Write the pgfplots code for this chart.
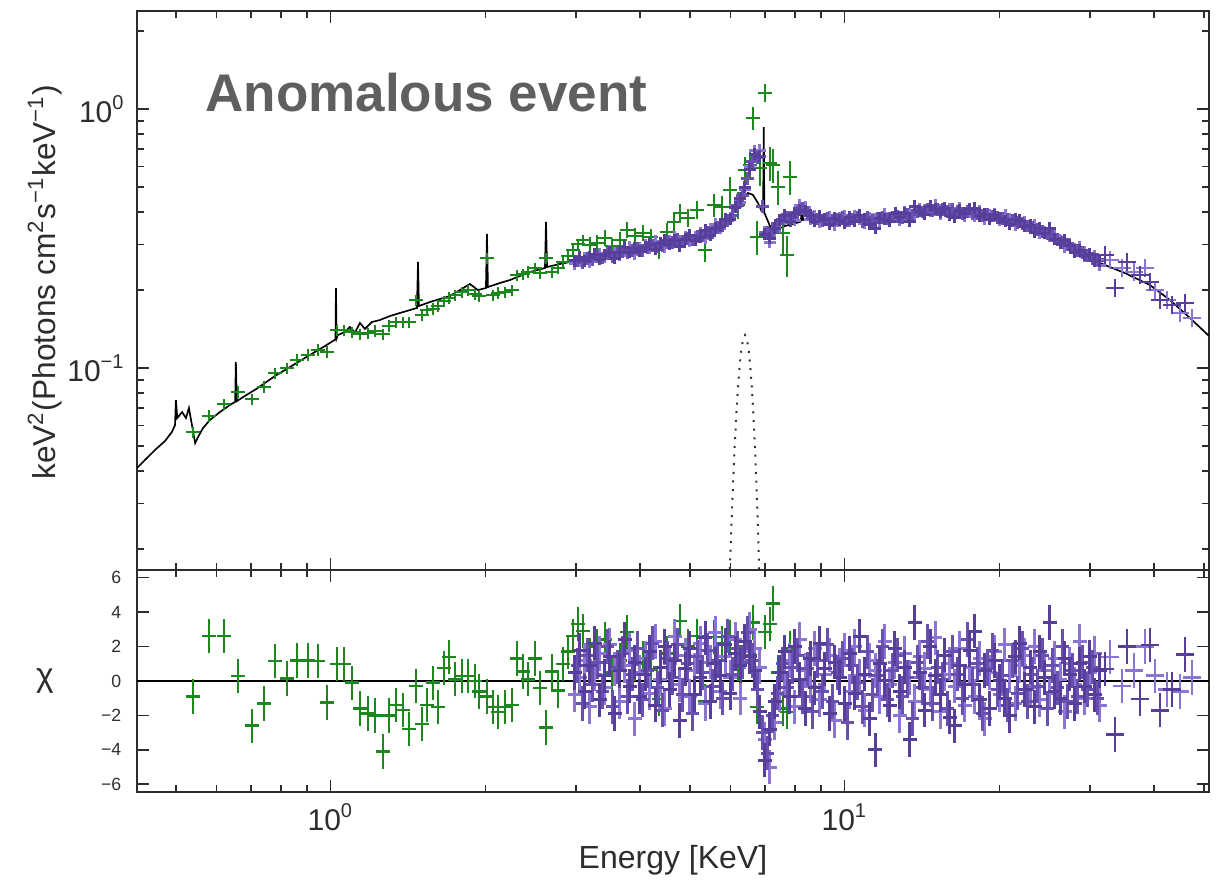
\documentclass[border=0pt]{standalone}
\usepackage{pgfplots}
\pgfplotsset{compat=1.18}
\usepackage{pgfplotstable}
\usepackage{fontspec}
\setmainfont{Liberation Sans}
\definecolor{gcol}{RGB}{28,135,28}
\definecolor{pdark}{RGB}{88,62,155}
\definecolor{pmid}{RGB}{105,80,176}
\definecolor{plight}{RGB}{140,116,212}
\definecolor{titlegray}{RGB}{95,95,95}
\definecolor{axgray}{RGB}{45,45,45}

% cross-shaped marks of fixed size (error bars of fixed relative / absolute size)
\pgfdeclareplotmark{ptop}{%
  \pgfpathmoveto{\pgfqpoint{-1.9pt}{0pt}}\pgfpathlineto{\pgfqpoint{1.9pt}{0pt}}%
  \pgfpathmoveto{\pgfqpoint{0pt}{-1.9pt}}\pgfpathlineto{\pgfqpoint{0pt}{1.9pt}}%
  \pgfusepathqstroke}
\pgfdeclareplotmark{ptophi}{%
  \pgfpathmoveto{\pgfqpoint{-2.8pt}{0pt}}\pgfpathlineto{\pgfqpoint{2.8pt}{0pt}}%
  \pgfpathmoveto{\pgfqpoint{0pt}{-2.8pt}}\pgfpathlineto{\pgfqpoint{0pt}{2.8pt}}%
  \pgfusepathqstroke}
\pgfdeclareplotmark{pbot}{%
  \pgfpathmoveto{\pgfqpoint{-2.0pt}{0pt}}\pgfpathlineto{\pgfqpoint{2.0pt}{0pt}}%
  \pgfpathmoveto{\pgfqpoint{0pt}{-5.163pt}}\pgfpathlineto{\pgfqpoint{0pt}{5.163pt}}%
  \pgfusepathqstroke}
\pgfdeclareplotmark{pbothi}{%
  \pgfpathmoveto{\pgfqpoint{-2.8pt}{0pt}}\pgfpathlineto{\pgfqpoint{2.8pt}{0pt}}%
  \pgfpathmoveto{\pgfqpoint{0pt}{-5.163pt}}\pgfpathlineto{\pgfqpoint{0pt}{5.163pt}}%
  \pgfusepathqstroke}
\pgfdeclareplotmark{gbot}{%
  \pgfpathmoveto{\pgfqpoint{-2.11pt}{0pt}}\pgfpathlineto{\pgfqpoint{2.11pt}{0pt}}%
  \pgfpathmoveto{\pgfqpoint{0pt}{-5.163pt}}\pgfpathlineto{\pgfqpoint{0pt}{5.163pt}}%
  \pgfusepathqstroke}

\pgfplotstableread{
E F
0.420 0.0411
0.435 0.0441
0.455 0.0482
0.476 0.0522
0.491 0.0566
0.498 0.0602
0.500 0.0752
0.503 0.0641
0.514 0.0676
0.523 0.0641
0.530 0.0701
0.535 0.0630
0.545 0.0513
0.552 0.0541
0.5645 0.0586
0.5823 0.0630
0.609 0.0676
0.637 0.0720
0.652 0.0740
0.654 0.1055
0.657 0.0745
0.681 0.0780
0.712 0.0823
0.745 0.0875
0.779 0.0931
0.815 0.0982
0.852 0.1036
0.891 0.1093
0.932 0.1153
0.975 0.1216
1.010 0.1271
1.022 0.1290
1.024 0.2036
1.027 0.1300
1.033 0.1341
1.066 0.1377
1.090 0.1440
1.115 0.1370
1.140 0.1492
1.166 0.1415
1.203 0.1505
1.247 0.1532
1.305 0.1588
1.364 0.1631
1.427 0.1674
1.472 0.1705
1.479 0.2566
1.485 0.1735
1.560 0.1798
1.632 0.1847
1.707 0.1897
1.785 0.2000
1.866 0.2110
1.934 0.2000
2.005 0.2036
2.014 0.3292
2.023 0.2054
2.135 0.2129
2.233 0.2186
2.335 0.2266
2.443 0.2348
2.612 0.2432
2.624 0.3663
2.636 0.2455
2.794 0.2521
2.988 0.2589
3.341 0.2707
3.738 0.2830
4.181 0.2958
4.676 0.3093
5.231 0.3260
5.596 0.3440
5.852 0.3663
6.121 0.4070
6.369 0.4532
6.485 0.4739
6.631 0.4660
6.782 0.4337
6.905 0.4002
6.94 0.4000
6.96 0.8520
6.98 0.3950
6.997 0.3932
7.156 0.3533
7.319 0.3410
7.654 0.3533
8.186 0.3663
8.22 0.3700
8.26 0.4337
8.30 0.3730
8.954 0.3795
10.24 0.3862
11.71 0.3932
13.40 0.4002
15.33 0.4038
17.53 0.4002
20.05 0.3900
22.94 0.3600
25.08 0.3292
28.06 0.2855
31.38 0.2543
35.10 0.2326
39.26 0.2091
42.94 0.1830
46.97 0.1560
51.15 0.1329
}\modeldata

\pgfplotstableread{
E F
5.95 0.0123
6.00 0.0203
6.05 0.0316
6.10 0.0464
6.15 0.0641
6.20 0.0836
6.25 0.1028
6.30 0.1191
6.35 0.1301
6.40 0.1340
6.45 0.1301
6.50 0.1191
6.55 0.1028
6.60 0.0836
6.65 0.0641
6.70 0.0464
6.75 0.0316
6.80 0.0203
6.85 0.0123
}\gaussdata

\pgfplotstableread{
E F ey chi
0.5396 0.0566 0.05 -0.9
0.5797 0.0653 0.05 2.6
0.6200 0.0726 0.05 2.6
0.6602 0.0808 0.05 0.3
0.7029 0.0759 0.05 -2.6
0.7419 0.0845 0.05 -1.3
0.7791 0.0956 0.05 1.15
0.8222 0.1000 0.05 0.15
0.8598 0.1074 0.05 1.2
0.9034 0.1123 0.05 1.2
0.9447 0.1174 0.05 1.15
0.9835 0.1153 0.05 -1.25
1.0287 0.1402 0.05 1.0
1.0614 0.1402 0.05 1.0
1.1002 0.1377 0.05 -0.1
1.1402 0.1353 0.05 -1.6
1.1817 0.1365 0.05 -1.9
1.2193 0.1390 0.05 -2.0
1.2639 0.1353 0.05 -4.1
1.2986 0.1453 0.05 -2.0
1.3397 0.1505 0.05 -1.4
1.3825 0.1505 0.05 -1.7
1.4201 0.1505 0.05 -2.8
1.4652 0.1830 0.05 -0.3
1.5052 0.1601 0.05 -2.5
1.5393 0.1674 0.05 -1.4
1.5813 0.1690 0.05 -0.1
1.6173 0.1735 0.05 -1.5
1.6612 0.1814 0.05 0.75
1.6988 0.1864 0.05 1.4
1.7451 0.1913 0.05 0.1
1.8004 0.1965 0.05 0.3
1.8494 0.2000 0.05 0.3
1.9083 0.1931 0.05 0.0
1.9428 0.1897 0.05 -0.6
2.0137 0.2658 0.05 -0.9
2.0693 0.1913 0.05 -1.5
2.1160 0.1949 0.05 -1.8
2.1834 0.1965 0.05 -1.5
2.2527 0.2000 0.05 -1.4
2.3042 0.2285 0.05 1.3
2.3666 0.2306 0.05 0.55
2.4207 0.2348 0.05 0.1
2.4980 0.2432 0.05 1.3
2.5546 0.2326 0.05 -0.4
2.6241 0.2658 0.05 -2.7
2.6958 0.2348 0.05 0.55
2.7690 0.2432 0.05 -0.55
2.8314 0.2566 0.05 1.0
2.8954 0.2707 0.05 1.7
2.9610 0.2855 0.05 2.6
3.0280 0.3011 0.05 3.3
3.0966 0.3120 0.05 2.9
3.1949 0.2985 0.07 1.5
3.2968 0.3039 0.07 2.0
3.4174 0.3176 0.07 2.4
3.5263 0.2958 0.07 0.5
3.6553 0.3120 0.07 1.2
3.7717 0.3410 0.07 2.86
3.9089 0.3233 0.07 1.0
4.0520 0.3320 0.07 1.3
4.2003 0.3204 0.07 0.67
4.3527 0.2855 0.08 -1.05
4.5117 0.3350 0.08 1.6
4.6552 0.3663 0.08 2.57
4.7823 0.3967 0.08 3.5
4.9566 0.3795 0.08 2.0
5.1615 0.4070 0.08 2.6
5.3496 0.2855 0.10 -1.2
5.5700 0.4260 0.10 2.57
5.7740 0.4183 0.10 2.2
5.9841 0.4870 0.12 2.57
6.2035 0.4260 0.12 1.0
6.3973 0.5810 0.12 2.0
6.5432 0.6078 0.12 1.5
6.6314 0.9230 0.10 3.4
6.7530 0.3204 0.15 -1.5
6.8427 0.5920 0.15 0.8
6.9972 1.1530 0.08 2.86
7.1563 0.6187 0.15 3.3
7.2534 0.6078 0.15 4.5
7.4177 0.4999 0.15 0.5
7.5860 0.3320 0.18 -1.6
7.7200 0.2731 0.18 -1.8
7.8285 0.5463 0.15 1.9
}\greendata

\pgfplotstableread{
E F chi
2.988 0.2589 0.5
3.055 0.2682 1.8
3.124 0.2589 -0.6
3.195 0.2682 0.9
3.267 0.2754 2.2
3.341 0.2635 -1.1
3.417 0.2730 0.3
3.495 0.2804 1.4
3.574 0.2658 -1.9
3.655 0.2804 0.6
3.738 0.2931 2.4
3.822 0.2804 -0.3
3.909 0.2906 1.1
3.998 0.2829 -0.9
4.089 0.2931 0.4
4.181 0.3010 1.7
4.276 0.2880 -1.4
4.373 0.3037 0.8
4.471 0.3119 2.0
4.572 0.3010 -0.5
4.676 0.3119 1.2
4.782 0.2958 -2.3
4.891 0.3147 0.7
5.001 0.3261 1.9
5.115 0.3119 -0.8
5.231 0.3204 0.2
5.350 0.3410 2.5
5.471 0.3261 -1.2
5.596 0.3471 1.0
5.722 0.3533 0.3
5.852 0.3760 2.1
5.984 0.3760 -0.7
6.121 0.4183 1.6
6.259 0.4532 0.9
6.397 0.4997 2.3
6.543 0.5865 1.4
6.691 0.6702 0.6
6.843 0.6584 -1.8
6.997 0.3291 -4.6
7.156 0.3175 -2.8
7.319 0.3471 -1.2
7.485 0.3727 0.5
7.654 0.3896 1.7
7.829 0.3694 -0.9
8.005 0.3966 2.0
8.186 0.4073 0.1
8.373 0.4037 -1.6
8.563 0.3896 1.3
8.756 0.3694 -0.4
8.954 0.3862 2.2
9.156 0.3760 0.7
9.363 0.3597 -1.9
9.576 0.3793 1.1
9.793 0.3727 0.2
10.01 0.3629 -1.3
10.24 0.3827 1.6
10.47 0.3694 -0.7
10.71 0.3896 2.6
10.95 0.3760 0.4
11.20 0.3597 -2.2
11.46 0.3471 -4.0
11.71 0.3793 1.0
11.98 0.3760 0.0
12.25 0.3694 -1.4
12.53 0.3966 1.9
12.81 0.3827 -0.6
13.10 0.3966 0.8
13.40 0.3694 -3.4
13.70 0.4220 3.4
14.01 0.4037 0.5
14.33 0.3931 -1.7
14.66 0.4220 2.0
14.99 0.4109 0.3
15.33 0.4001 -0.8
15.67 0.4146 1.5
16.03 0.3896 -2.1
16.39 0.3827 -2.6
16.76 0.4073 0.9
17.14 0.3966 -0.2
17.53 0.4109 1.8
17.93 0.4146 2.9
18.33 0.3862 -1.1
18.75 0.3931 0.6
19.18 0.3760 -1.6
19.61 0.3896 1.2
20.05 0.3793 0.0
20.51 0.3694 -1.0
20.97 0.3597 -2.0
21.45 0.3760 1.4
21.93 0.3727 2.2
22.43 0.3533 -0.5
22.94 0.3565 0.8
23.45 0.3350 -1.5
23.99 0.3471 1.7
24.53 0.3320 0.2
25.08 0.3471 3.4
25.65 0.3147 -0.6
26.24 0.3037 -1.0
26.83 0.3119 1.3
27.44 0.2984 0.4
28.06 0.2804 -1.3
28.69 0.2854 1.0
29.34 0.2730 -0.3
30.01 0.2754 1.4
30.69 0.2589 -0.8
31.38 0.2589 0.6
}\purpleA

\pgfplotstableread{
E F chi
2.988 0.2521 -0.8
3.055 0.2589 0.2
3.124 0.2658 1.2
3.195 0.2566 -1.5
3.267 0.2682 0.4
3.341 0.2754 1.6
3.417 0.2682 -0.4
3.495 0.2829 2.1
3.574 0.2779 0.7
3.655 0.2730 -1.2
3.738 0.2854 0.9
3.822 0.2931 1.8
3.909 0.2754 -2.2
3.998 0.2906 0.5
4.089 0.2984 1.3
4.181 0.2906 -0.7
4.276 0.3091 2.3
4.373 0.2984 0.1
4.471 0.2931 -1.6
4.572 0.3091 1.0
4.676 0.3204 2.6
4.782 0.3091 -0.2
4.891 0.3204 1.5
5.001 0.3091 -0.9
5.115 0.3204 0.6
5.231 0.3320 2.2
5.350 0.3175 -1.3
5.471 0.3380 1.1
5.596 0.3597 2.8
5.722 0.3471 -0.6
5.852 0.3727 1.4
5.984 0.3793 0.2
6.121 0.4258 2.4
6.259 0.4374 -1.0
6.397 0.4909 1.7
6.543 0.6023 3.0
6.691 0.6884 1.9
6.843 0.6945 0.8
6.997 0.3350 -3.4
7.156 0.3064 -5.0
7.319 0.3380 -2.4
7.485 0.3629 -0.8
7.654 0.3827 0.3
7.829 0.3827 1.2
8.005 0.3727 -1.5
8.186 0.4258 2.4
8.373 0.4183 0.6
8.563 0.3760 -0.3
8.756 0.3862 1.9
8.954 0.3661 -1.1
9.156 0.3760 0.4
9.363 0.3827 1.5
9.576 0.3565 -2.3
9.793 0.3793 0.9
10.01 0.3862 1.8
10.24 0.3694 -0.6
10.47 0.3862 2.0
10.71 0.3760 0.3
10.95 0.3629 -1.7
11.20 0.3793 1.2
11.46 0.3760 0.6
11.71 0.3661 -0.9
11.98 0.3931 2.3
12.25 0.3793 -0.2
12.53 0.3896 1.1
12.81 0.3727 -2.0
13.10 0.4001 1.6
13.40 0.3931 0.2
13.70 0.3896 -1.2
14.01 0.4109 1.4
14.33 0.4073 0.7
14.66 0.4037 -0.5
14.99 0.4258 2.5
15.33 0.3931 -1.8
15.67 0.4073 0.4
16.03 0.4109 1.0
16.39 0.3966 -0.3
16.76 0.4146 1.9
17.14 0.3862 -1.4
17.53 0.4037 0.8
17.93 0.3862 -0.9
18.33 0.4037 1.3
18.75 0.3760 -2.2
19.18 0.3896 0.5
19.61 0.3931 1.7
20.05 0.3727 -0.8
20.51 0.3896 2.1
20.97 0.3760 0.3
21.45 0.3565 -1.3
21.93 0.3661 0.9
22.43 0.3661 1.5
22.94 0.3471 -0.4
23.45 0.3565 2.0
23.99 0.3320 -1.1
24.53 0.3350 0.6
25.08 0.3232 -0.7
25.65 0.3261 1.3
26.24 0.3091 0.1
26.83 0.2931 -1.8
27.44 0.3010 1.0
28.06 0.2880 -0.2
28.69 0.2931 2.3
29.34 0.2706 -1.0
30.01 0.2706 0.5
30.69 0.2706 1.6
31.38 0.2498 -1.4
}\purpleB

\pgfplotstableread{
E F chi
3.022 0.2590 0.9
3.090 0.2560 -1.3
3.159 0.2650 1.5
3.231 0.2620 -0.2
3.304 0.2700 1.1
3.379 0.2660 -0.6
3.456 0.2760 2.0
3.534 0.2700 -1.5
3.614 0.2780 0.8
3.696 0.2810 1.6
3.780 0.2780 -0.9
3.865 0.2850 0.4
3.953 0.2900 1.9
4.043 0.2850 -1.1
4.135 0.2920 0.6
4.228 0.2980 2.2
4.324 0.2930 -0.4
4.422 0.2960 -1.7
4.522 0.3050 1.3
4.624 0.3060 0.2
4.729 0.3130 2.1
4.836 0.3070 -0.8
4.946 0.3160 1.0
5.058 0.3120 -1.9
5.173 0.3220 1.4
5.290 0.3240 0.5
5.410 0.3340 1.8
5.533 0.3330 -0.3
5.659 0.3490 1.2
5.787 0.3560 -1.0
5.918 0.3730 2.6
6.052 0.3890 0.4
6.190 0.4250 1.9
6.330 0.4620 1.1
6.469 0.5400 2.8
6.617 0.6250 1.2
6.767 0.6500 -0.5
6.920 0.4200 -3.0
7.076 0.3350 -4.2
7.237 0.3380 -2.0
7.402 0.3600 -0.7
7.570 0.3760 1.0
7.740 0.3800 -0.4
7.917 0.3800 0.8
8.095 0.3980 1.5
8.279 0.4120 -0.9
8.468 0.4000 0.7
8.660 0.3790 -1.8
8.855 0.3760 1.2
9.055 0.3700 -0.6
9.259 0.3790 2.1
9.469 0.3700 -1.2
9.684 0.3760 0.5
9.904 0.3800 1.3
10.12 0.3700 -2.4
10.36 0.3760 0.9
10.59 0.3830 -0.1
10.83 0.3680 -1.5
11.07 0.3800 1.7
11.33 0.3720 -0.8
11.59 0.3790 0.3
11.84 0.3820 2.0
12.12 0.3760 -1.1
12.39 0.3830 0.6
12.67 0.3850 1.5
12.95 0.3820 -0.9
13.25 0.3930 0.2
13.55 0.3900 -2.2
13.85 0.4020 1.1
14.17 0.4000 -0.4
14.49 0.4100 2.3
14.83 0.4050 -1.3
15.16 0.4100 0.8
15.50 0.4080 0.1
15.85 0.4010 -1.6
16.21 0.4080 1.7
16.58 0.4010 0.4
16.95 0.3960 -1.0
17.33 0.4020 2.4
17.73 0.3940 -0.2
18.13 0.3950 1.0
18.54 0.3870 -1.9
18.96 0.3920 0.7
19.40 0.3860 1.8
19.83 0.3800 -0.5
20.28 0.3780 0.3
20.74 0.3750 -1.4
21.21 0.3700 1.2
21.69 0.3650 -0.7
22.18 0.3620 1.9
22.68 0.3530 -1.2
23.20 0.3500 0.4
23.71 0.3420 -0.3
24.26 0.3360 1.5
24.81 0.3290 -1.6
25.36 0.3230 0.9
25.94 0.3140 -0.4
26.54 0.3060 2.0
27.13 0.3000 -1.2
27.75 0.2910 0.6
28.38 0.2840 -0.9
29.01 0.2790 1.1
29.67 0.2720 -0.5
30.35 0.2650 0.8
31.04 0.2620 -1.0
}\purpleC

\pgfplotstableread{
E F chi
32.09 0.2731 0.7
33.57 0.2036 -3.1
35.42 0.2566 2.0
37.54 0.2285 -1.05
39.26 0.2148 2.1
41.06 0.1830 -1.7
43.33 0.1750 -0.5
45.93 0.1782 1.55
}\purpleAhi

\pgfplotstableread{
E F chi
32.83 0.2612 1.4
34.63 0.2432 -0.3
36.54 0.2348 0.6
38.39 0.2432 2.0
40.15 0.2000 0.3
42.36 0.1830 -0.5
44.91 0.1631 -0.6
47.39 0.1560 0.2
}\purpleBhi

\begin{document}
\begin{tikzpicture}
\path[use as bounding box] (0,0) rectangle (364.8pt,264.6pt);
% ---------------- top panel ----------------
\begin{axis}[
  scale only axis, width=321.6pt, anchor=south west,
  at={(41.1pt,93.6pt)}, height=167.7pt,
  xmode=log, xmin=0.42, xmax=51.15,
  ymode=log, ymin=0.0166, ymax=2.39,
  xtick={1,10},
  minor xtick={0.5,0.6,0.7,0.8,0.9,2,3,4,5,6,7,8,9,20,30,40,50},
  xticklabels={,},
  tick pos=both,
  axis line style={axgray, line width=0.5pt},
  every tick/.style={axgray, line width=0.45pt},
  major tick length=3.5pt, minor tick length=2pt,
  ytick={0.1,1},
  yticklabels={10\textsuperscript{−1},10\textsuperscript{0}},
  minor ytick={0.02,0.03,0.04,0.05,0.06,0.07,0.08,0.09,0.2,0.3,0.4,0.5,0.6,0.7,0.8,0.9,2},
  yticklabel style={font=\fontsize{9}{10}\selectfont, text=axgray},
  every axis y label/.style={at={(rel axis cs:0,0.515)}, xshift=-27.6pt, anchor=center, rotate=90},
  ylabel={keV\textsuperscript{2}(Photons cm\textsuperscript{2}s\textsuperscript{−1}keV\textsuperscript{−1})},
  ylabel style={font=\fontsize{9.5}{11}\selectfont, text=axgray},
]
\addplot[black, line width=0.5pt] table[x=E, y=F] {\modeldata};
\addplot[black!80, dotted, line width=0.6pt] table[x=E, y=F] {\gaussdata};
\addplot[draw=none, mark=none, forget plot, error bars/.cd, x dir=both, x fixed relative=0.032, y dir=both, y explicit relative, error mark=none,
  error bar style={draw=gcol, line width=0.75pt}] table[x=E, y=F, y error=ey] {\greendata};
\addplot[only marks, mark=ptop, mark options={draw=plight, line width=0.9pt}] table[x=E, y=F] {\purpleB};
\addplot[only marks, mark=ptop, mark options={draw=pmid, line width=0.9pt}] table[x=E, y=F] {\purpleC};
\addplot[only marks, mark=ptop, mark options={draw=pdark, line width=0.9pt}] table[x=E, y=F] {\purpleA};
\addplot[only marks, mark=ptophi, mark options={draw=plight, line width=0.8pt}] table[x=E, y=F] {\purpleBhi};
\addplot[only marks, mark=ptophi, mark options={draw=pdark, line width=0.8pt}] table[x=E, y=F] {\purpleAhi};
\node[anchor=base west, inner sep=0pt, font=\bfseries\fontsize{15.9}{18}\selectfont, text=titlegray]
  at (rel axis cs:0.0634,0.821) {Anomalous event};
\end{axis}
% ---------------- bottom panel ----------------
\begin{axis}[
  scale only axis, width=321.6pt, anchor=south west,
  at={(41.1pt,27pt)}, height=66.6pt,
  xmode=log, xmin=0.42, xmax=51.15,
  ymin=-6.45, ymax=6.45,
  xtick={1,10},
  minor xtick={0.5,0.6,0.7,0.8,0.9,2,3,4,5,6,7,8,9,20,30,40,50},
  xticklabels={10\textsuperscript{0},10\textsuperscript{1}},
  xticklabel style={font=\fontsize{9}{10}\selectfont, text=axgray},
  tick pos=both,
  axis line style={axgray, line width=0.5pt},
  every tick/.style={axgray, line width=0.45pt},
  major tick length=3.5pt, minor tick length=2pt,
  ytick={-6,-4,-2,0,2,4,6},
  yticklabels={−6,−4,−2,0,2,4,6},
  yticklabel style={font=\fontsize{5.3}{6}\selectfont, xshift=-1.2pt, text=axgray},
  every axis y label/.style={at={(rel axis cs:0,0.5)}, xshift=-27.6pt, anchor=center},
  ylabel={χ},
  ylabel style={font=\fontsize{10}{11}\selectfont, text=axgray},
  every axis x label/.style={at={(rel axis cs:0.5,0)}, anchor=center, yshift=-20.4pt},
  xlabel={Energy [KeV]},
  xlabel style={font=\fontsize{9.6}{11}\selectfont, text=axgray},
]
\addplot[only marks, mark=gbot, mark options={draw=gcol, line width=0.75pt}] table[x=E, y=chi] {\greendata};
\addplot[only marks, mark=pbot, mark options={draw=plight, line width=0.9pt}] table[x=E, y=chi] {\purpleB};
\addplot[only marks, mark=pbot, mark options={draw=pmid, line width=0.9pt}] table[x=E, y=chi] {\purpleC};
\addplot[only marks, mark=pbot, mark options={draw=pdark, line width=0.9pt}] table[x=E, y=chi] {\purpleA};
\addplot[only marks, mark=pbothi, mark options={draw=plight, line width=0.8pt}] table[x=E, y=chi] {\purpleBhi};
\addplot[only marks, mark=pbothi, mark options={draw=pdark, line width=0.8pt}] table[x=E, y=chi] {\purpleAhi};
\addplot[black, line width=0.5pt] coordinates {(0.42,0) (51.15,0)};
\end{axis}
\end{tikzpicture}
\end{document}
